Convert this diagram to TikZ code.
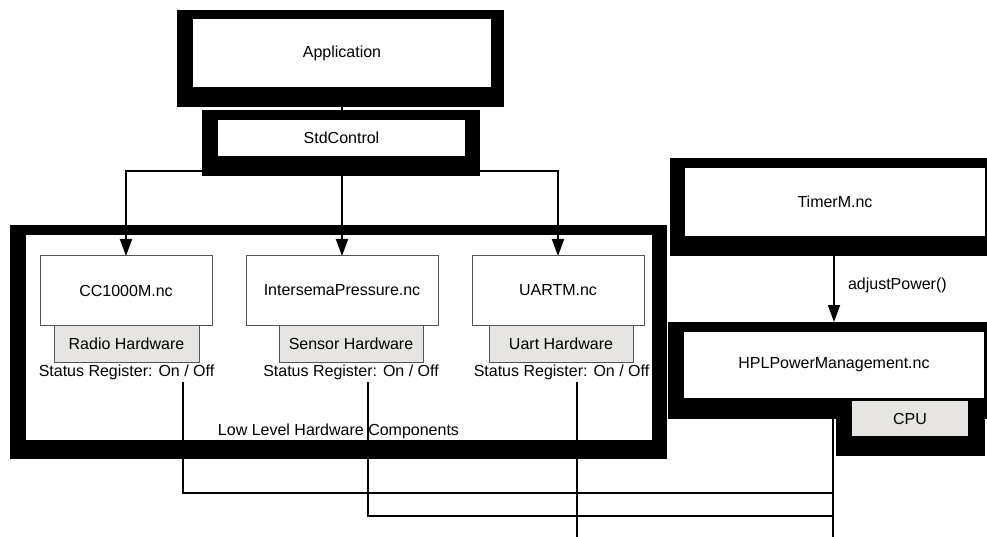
\documentclass[tikz,border=0pt]{standalone}
\usepackage{fontspec}
\setmainfont{Liberation Sans}
\usetikzlibrary{arrows.meta}
\definecolor{hwgray}{HTML}{E7E5E2}
\definecolor{edgegray}{HTML}{555555}
\begin{document}
\begin{tikzpicture}[x=1pt,y=-1pt,
  every node/.style={font=\fontsize{16}{19}\selectfont, inner sep=0pt, outer sep=0pt},
  frame/.style={fill=black, draw=none, rectangle},
  inbox/.style={fill=white, draw=none, rectangle},
  compbox/.style={fill=white, draw=edgegray, line width=1pt, rectangle},
  hwbox/.style={fill=hwgray, draw=edgegray, line width=1pt, rectangle},
  conn/.style={line width=2pt, black},
  arr/.style={conn, -{Triangle[length=17pt,width=12pt]}}]
\useasboundingbox (0,0) rectangle (987,537);
\fill[white] (0,0) rectangle (987,537);

% Application
\node[frame, minimum width=327pt, minimum height=97pt] (appO) at (340.5,58.5) {};
\node[inbox, minimum width=298pt, minimum height=68pt] (app) at (342,53) {Application};
% StdControl
\node[frame, minimum width=278pt, minimum height=66pt] (stdO) at (341,143) {};
\node[inbox, minimum width=247pt, minimum height=36pt] (std) at (341.5,138) {StdControl};
\draw[conn] (appO.south -| 342,0) -- (stdO.north -| 342,0);

% Low level hardware components
\node[frame, minimum width=657pt, minimum height=234pt] (lowO) at (338.5,342) {};
\node[inbox, minimum width=626pt, minimum height=205pt] (low) at (339,337.5) {};
\node (lowlbl) at (338.5,431) {Low Level Hardware Components};

% components
\node[compbox, minimum width=172pt, minimum height=69pt] (cc) at (126,290.5) {CC1000M.nc};
\node[hwbox, minimum width=145pt, minimum height=37pt] (radio) at (126.5,343.5) {Radio Hardware};
\node (st1) at (126.5,372) {Status Register: On / Off};

\node[compbox, minimum width=192pt, minimum height=69pt] (inter) at (342,290.5) {IntersemaPressure.nc};
\node[hwbox, minimum width=144pt, minimum height=37pt] (sensor) at (351,343.5) {Sensor Hardware};
\node (st2) at (351,372) {Status Register: On / Off};

\node[compbox, minimum width=172pt, minimum height=69pt] (uart) at (558,290.5) {UARTM.nc};
\node[hwbox, minimum width=144pt, minimum height=37pt] (uarthw) at (561,343.5) {Uart Hardware};
\node (st3) at (561.5,372) {Status Register: On / Off};

% arrows from StdControl
\draw[arr] (inter.north |- stdO.south) -- (inter.north);
\draw[arr] ([yshift=-28pt]stdO.west) -| (cc.north);
\draw[arr] ([yshift=-28pt]stdO.east) -| (uart.north);

% TimerM
\node[frame, minimum width=317pt, minimum height=98pt] (timO) at (828.5,207) {};
\node[inbox, minimum width=300pt, minimum height=68pt] (tim) at (835,202) {TimerM.nc};
% HPLPowerManagement
\node[frame, minimum width=319pt, minimum height=97pt] (hplO) at (827.5,370.5) {};
\node[frame, minimum width=149pt, minimum height=58pt] (cpuO) at (910.5,427) {};
\node[inbox, minimum width=300pt, minimum height=66pt] (hpl) at (834,365) {HPLPowerManagement.nc};
\node[hwbox, draw=none, minimum width=116pt, minimum height=35pt] (cpu) at (910,418.5) {CPU};

\draw[arr] (hplO.north -| 834,0) ++(0,-66) -- (hplO.north -| 834,0);
\node[anchor=west] (adj) at (848,285) {adjustPower()};

% status lines to power management
\coordinate (p1) at (183,382);
\coordinate (p2) at (368,382);
\coordinate (p3) at (577,382);
\coordinate (p3e) at (577,537);
\coordinate (bus) at (833,419);
\coordinate (buse) at (833,537);
\draw[conn] (p1) |- (bus |- 0,493);
\draw[conn] (p2) |- (bus |- 0,516);
\draw[conn] (p3) -- (p3e);
\draw[conn] (bus) -- (buse);
\end{tikzpicture}
\end{document}
